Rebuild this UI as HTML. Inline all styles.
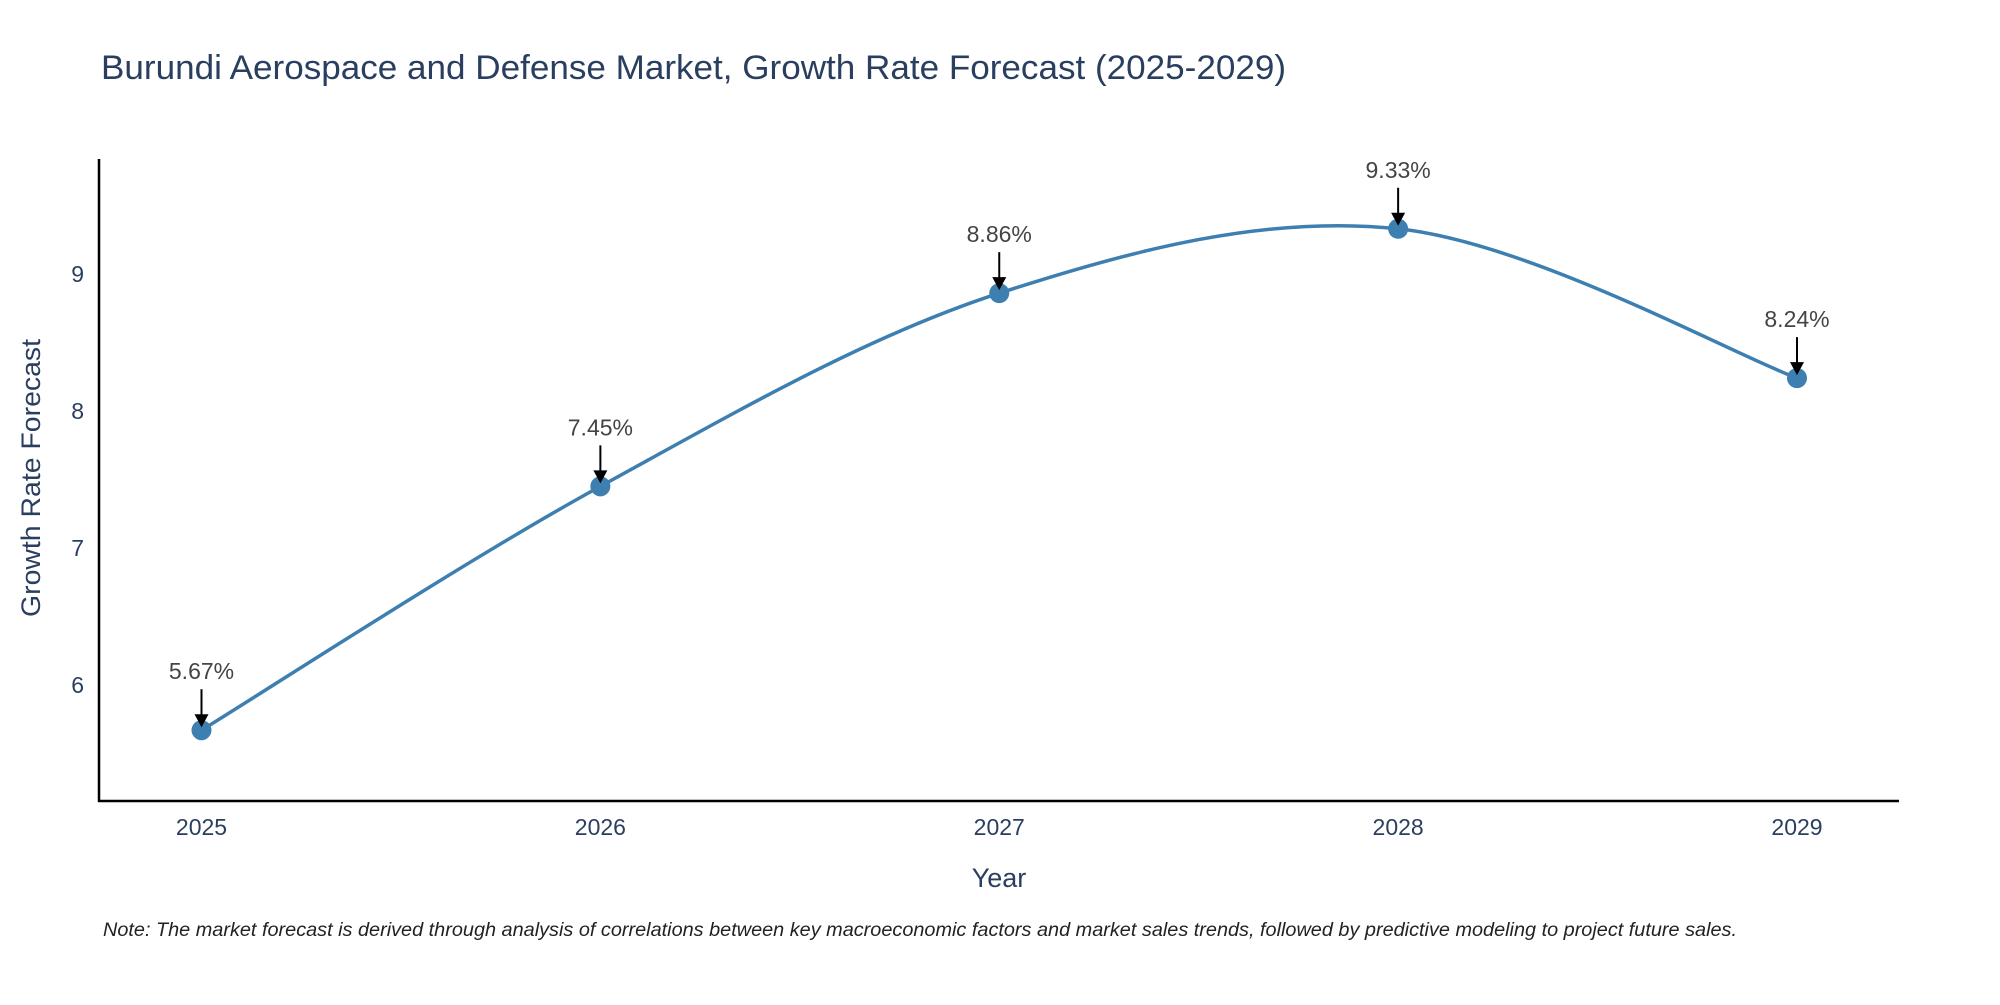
<!DOCTYPE html>
<html><head><meta charset="utf-8"><style>
body{margin:0;background:#fff;}
svg text{font-family:"Liberation Sans","DejaVu Sans",sans-serif;}
</style></head><body>
<svg id="chart" width="2000" height="1000" xmlns="http://www.w3.org/2000/svg">
<rect width="2000" height="1000" fill="#fff"/>
<text x="101" y="79" font-size="34" fill="#2a3f5f" textLength="1185" lengthAdjust="spacingAndGlyphs">Burundi Aerospace and Defense Market, Growth Rate Forecast (2025-2029)</text>
<g id="plot"></g>
<line x1="99" y1="159" x2="99" y2="802" stroke="#000" stroke-width="2.5"/>
<line x1="98" y1="801" x2="1899" y2="801" stroke="#000" stroke-width="2.5"/>
<text x="999" y="887" font-size="27" fill="#2a3f5f" text-anchor="middle">Year</text>
<text transform="translate(40,478) rotate(-90)" font-size="27" fill="#2a3f5f" text-anchor="middle" textLength="278" lengthAdjust="spacingAndGlyphs">Growth Rate Forecast</text>
<text x="103" y="936" font-size="19" font-style="italic" fill="#222" textLength="1634" lengthAdjust="spacingAndGlyphs">Note: The market forecast is derived through analysis of correlations between key macroeconomic factors and market sales trends, followed by predictive modeling to project future sales.</text>
</svg>
<script>
const years=[2025,2026,2027,2028,2029];
const values=[5.67,7.45,8.86,9.33,8.24];
const labels=["5.67%","7.45%","8.86%","9.33%","8.24%"];
const yTicks=[6,7,8,9];
const NS="http://www.w3.org/2000/svg";
const g=document.getElementById('plot');
const xs=v=>201.5+(v-2025)*(1797-201.5)/4;
const ys=v=>274+(9-v)*137;
function mk(t,a,p){const e=document.createElementNS(NS,t);for(const k in a)e.setAttribute(k,a[k]);(p||g).appendChild(e);return e;}
yTicks.forEach(t=>{const e=mk('text',{x:84,y:ys(t)+8,'font-size':23,fill:'#2a3f5f','text-anchor':'end'});


e.textContent=t;});
years.forEach(t=>{const e=mk('text',{x:xs(t),y:835,'font-size':23,fill:'#2a3f5f','text-anchor':'middle'});


e.textContent=t;});
const P=years.map((y,i)=>[xs(y),ys(values[i])]);
let d=`M${P[0][0]},${P[0][1]}`;
for(let i=0;i<P.length-1;i++){const p0=P[Math.max(0,i-1)],p1=P[i],p2=P[i+1],p3=P[Math.min(P.length-1,i+2)];
const c1=[p1[0]+(p2[0]-p0[0])/6,p1[1]+(p2[1]-p0[1])/6],c2=[p2[0]-(p3[0]-p1[0])/6,p2[1]-(p3[1]-p1[1])/6];
d+=` C${c1[0]},${c1[1]} ${c2[0]},${c2[1]} ${p2[0]},${p2[1]}`;}
const line=mk('path',{d:d,fill:'none',stroke:'#3d7fb0','stroke-width':3.5});


P.forEach((p,i)=>{const c=mk('circle',{cx:p[0],cy:p[1],r:10,fill:'#3d7fb0'});


const a=mk('line',{x1:p[0],y1:p[1]-41,x2:p[0],y2:p[1]-12,stroke:'#000','stroke-width':2});


const h=mk('polygon',{points:`${p[0]-7},${p[1]-16} ${p[0]+7},${p[1]-16} ${p[0]},${p[1]-3}`,fill:'#000'});


const t=mk('text',{x:p[0],y:p[1]-51,'font-size':23,fill:'#444','text-anchor':'middle'});


t.textContent=labels[i];});
</script>
</body></html>
